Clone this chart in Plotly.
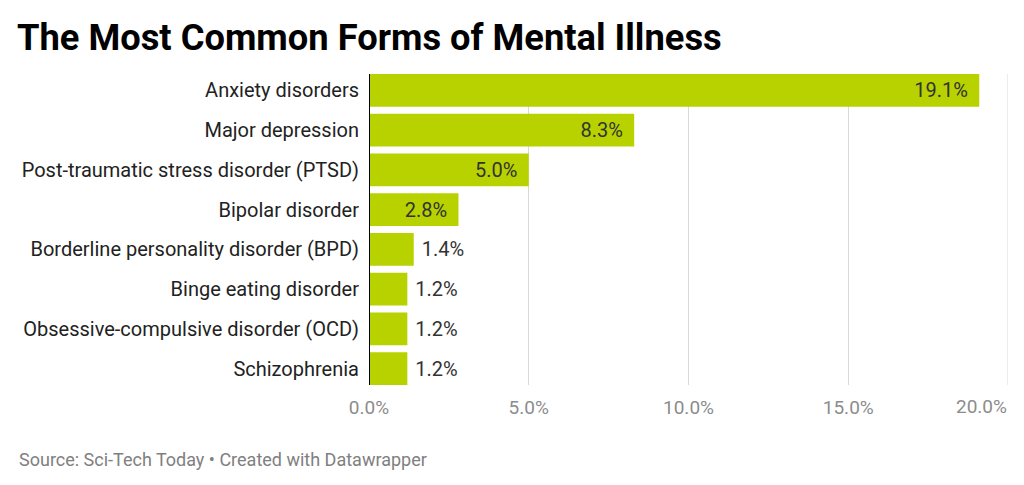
import plotly.graph_objects as go

categories = [
    "Anxiety disorders",
    "Major depression",
    "Post-traumatic stress disorder (PTSD)",
    "Bipolar disorder",
    "Borderline personality disorder (BPD)",
    "Binge eating disorder",
    "Obsessive-compulsive disorder (OCD)",
    "Schizophrenia",
]
values = [19.1, 8.3, 5.0, 2.8, 1.4, 1.2, 1.2, 1.2]
tick_vals = [0, 5, 10, 15, 20]
tick_text = ["0.0%", "5.0%", "10.0%", "15.0%", "20.0%"]

inside = [v >= 2.5 for v in values]
positions = ["inside" if i else "outside" for i in inside]
templates = ["%{x:.1f}%\u00a0\u2006" if i else "\u00a0%{x:.1f}%" for i in inside]

fig = go.Figure(go.Bar(
    y=categories,
    x=values,
    orientation="h",
    marker=dict(color="#b8d200", line=dict(width=0)),
    texttemplate=templates,
    textposition=positions,
    insidetextanchor="end",
    insidetextfont=dict(family="Roboto", size=20, color="#333333"),
    outsidetextfont=dict(family="Roboto", size=20, color="#333333"),
    cliponaxis=False,
    hoverinfo="skip",
))

bargap = 0.175
fig.update_layout(
    width=1024, height=485,
    margin=dict(l=369, r=16, t=74, b=100, pad=0),
    paper_bgcolor="white", plot_bgcolor="white",
    bargap=bargap,
    showlegend=False,
    font=dict(family="Roboto", color="#333333"),
    title=dict(
        text="<b>The Most Common Forms of Mental Illness</b>",
        font=dict(family="Roboto", size=36.3, color="#000000"),
        x=17 / 1024, xref="container", xanchor="left", y=1 - 37 / 485, yref="container",
        yanchor="middle",
        pad=dict(l=0),
    ),
    xaxis=dict(
        range=[0, 20], tickvals=tick_vals[:-1], ticktext=tick_text[:-1],
        showgrid=True, gridcolor="#d9d9d9", gridwidth=1,
        zeroline=False, showline=False,
        tickfont=dict(family="Roboto", size=19, color="#8c8c8c"),
        ticks="", ticklabelstandoff=9, fixedrange=True,
    ),
    yaxis=dict(
        autorange=False,
        range=[len(categories) - 1 + 0.5 - bargap / 2, -0.5 + bargap / 2],
        categoryorder="array", categoryarray=categories,
        showgrid=False, zeroline=False, showline=False,
        tickfont=dict(family="Roboto", size=20, color="#222222"),
        ticks="", ticklabelstandoff=9, fixedrange=True,
    ),
)

# last gridline (edge) and right-aligned last tick label
fig.add_shape(type="line", xref="x", yref="paper", x0=tick_vals[-1], x1=tick_vals[-1],
              y0=0, y1=1, line=dict(color="#d9d9d9", width=1), layer="below")
fig.add_annotation(
    text=tick_text[-1], xref="x", yref="paper", x=tick_vals[-1], y=0,
    xanchor="right", yanchor="top", yshift=-8, xshift=1, showarrow=False,
    font=dict(family="Roboto", size=19, color="#8c8c8c"),
)

# zero baseline
fig.add_shape(type="line", xref="x", yref="paper", x0=0, x1=0, y0=0, y1=1,
              line=dict(color="#000000", width=2), layer="above")

fig.add_annotation(
    text="Source: Sci-Tech Today • Created with Datawrapper",
    xref="paper", yref="paper", x=0, y=0,
    xanchor="left", yanchor="middle", yshift=-74, xshift=17 - 369,
    showarrow=False, font=dict(family="Roboto", size=18, color="#808080"),
)

fig.write_html("out.html")
